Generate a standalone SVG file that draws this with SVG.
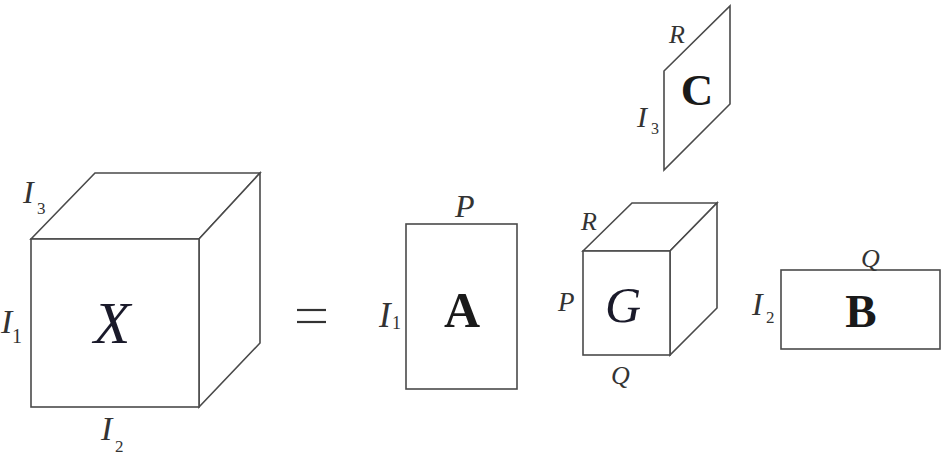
<svg xmlns="http://www.w3.org/2000/svg" width="951" height="456" viewBox="0 0 951 456">
<style>
.s{fill:none;stroke:#4a4a4a;stroke-width:1.6;stroke-linejoin:miter}
.f{fill:#fff;stroke:#4a4a4a;stroke-width:1.6}
.lab{font-family:"Liberation Serif",serif;font-style:italic;fill:#333}
.sub{font-family:"Liberation Serif",serif;fill:#333}
.big{font-family:"Liberation Serif",serif;font-weight:bold;fill:#1a1a1a;text-anchor:middle}
.cal{font-family:"Liberation Serif",serif;font-style:italic;fill:#1a1a2a;text-anchor:middle}
</style>
<rect width="951" height="456" fill="#fff"/>
<g id="X">
<polygon class="f" points="31,239 95,173 260,173 199,239"/>
<polygon class="f" points="199,239 260,173 260,343 199,407"/>
<rect class="f" x="31" y="239" width="168" height="168"/>
<text class="cal" x="112" y="343" font-size="60">X</text>
<text class="lab" x="23" y="203" font-size="32">I</text><text class="sub" x="37" y="214" font-size="17">3</text>
<text class="lab" x="1" y="333" font-size="34">I</text><text class="sub" x="12" y="343" font-size="20">1</text>
<text class="lab" x="101" y="440" font-size="34">I</text><text class="sub" x="115" y="452" font-size="17">2</text>
</g>
<g id="eq">
<line x1="297" y1="310" x2="326" y2="310" stroke="#333" stroke-width="2.2"/>
<line x1="297" y1="322" x2="326" y2="322" stroke="#333" stroke-width="2.2"/>
</g>
<g id="A">
<rect class="f" x="406" y="224" width="111" height="165"/>
<text class="big" x="462" y="327" font-size="50">A</text>
<text class="lab" x="455" y="217" font-size="32">P</text>
<text class="lab" x="379" y="327" font-size="35">I</text><text class="sub" x="392" y="329" font-size="18">1</text>
</g>
<g id="G">
<polygon class="f" points="583,251 632,203 717,203 670,251"/>
<polygon class="f" points="670,251 717,203 717,308 670,355"/>
<rect class="f" x="583" y="251" width="87" height="104"/>
<text class="cal" x="623" y="322" font-size="50">G</text>
<text class="lab" x="581" y="230" font-size="26">R</text>
<text class="lab" x="558" y="311" font-size="27">P</text>
<text class="lab" x="611" y="384" font-size="26">Q</text>
</g>
<g id="C">
<polygon class="f" points="664,71 730,6 730,104 664,170"/>
<text class="big" x="697" y="105" font-size="45">C</text>
<text class="lab" x="669" y="43" font-size="26">R</text>
<text class="lab" x="637" y="127" font-size="30">I</text><text class="sub" x="651" y="134" font-size="16">3</text>
</g>
<g id="B">
<rect class="f" x="781" y="270" width="159" height="79"/>
<text class="big" x="861" y="327" font-size="47">B</text>
<text class="lab" x="861" y="267" font-size="26">Q</text>
<text class="lab" x="752" y="315" font-size="32">I</text><text class="sub" x="766" y="323" font-size="17">2</text>
</g>
</svg>
